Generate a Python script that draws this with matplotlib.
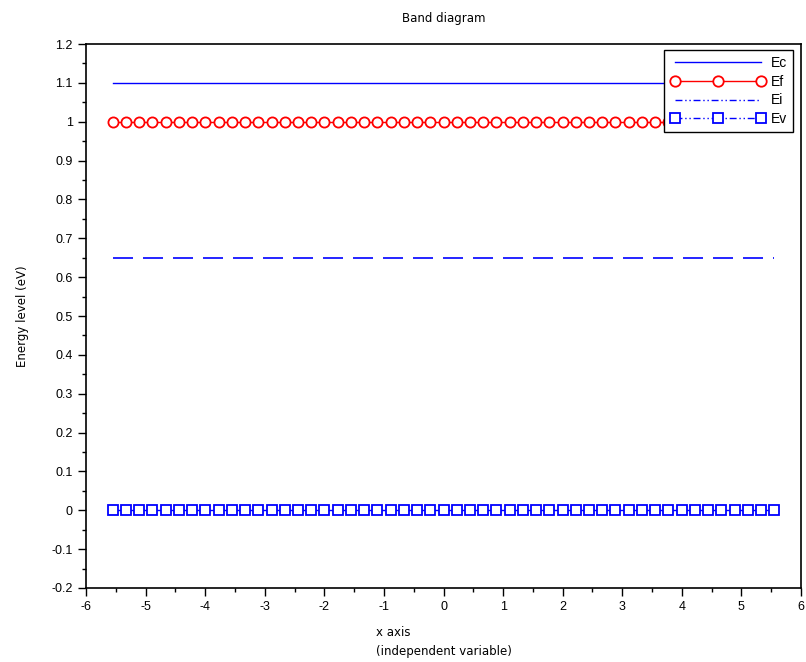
#!/usr/bin/env python
# Band diagram: flat energy levels across x
import numpy as np
import matplotlib
matplotlib.use('Agg')
import matplotlib.pyplot as plt
from matplotlib.lines import Line2D
from matplotlib.ticker import MultipleLocator

x = np.linspace(-5.55, 5.55, 51)
Ec = 1.1
Ef = 1.0
Ei = 0.65
Ev = 0.0
labels = ['Ec', 'Ef', 'Ei', 'Ev']

plt.rcParams['font.family'] = ['Liberation Sans', 'DejaVu Sans']
plt.rcParams['font.size'] = 9

fig = plt.figure(figsize=(8.06, 6.62), dpi=100)
ax = fig.add_axes([0.1067, 0.1118, 0.9938 - 0.1067, 0.9335 - 0.1118])

blue = '#0000ff'
red = '#ff0000'
ax.plot(x, np.full_like(x, Ec), color=blue, lw=1)
ax.plot(x, np.full_like(x, Ef), color=red, lw=1, marker='o', ms=7.3,
        mfc='white', mec=red, mew=1.3)
ax.plot(x, np.full_like(x, Ei), color=blue, lw=1.2, dashes=(12, 6))
ax.plot(x, np.full_like(x, Ev), color=blue, lw=1, marker='s', ms=7.3,
        mfc='white', mec=blue, mew=1.3)

ax.set_xlim(-6, 6)
ax.set_ylim(-0.2, 1.2)
ax.xaxis.set_major_locator(MultipleLocator(1))
ax.xaxis.set_minor_locator(MultipleLocator(0.5))
ax.yaxis.set_major_locator(MultipleLocator(0.1))
ax.yaxis.set_minor_locator(MultipleLocator(0.05))
ax.tick_params(which='major', length=6, width=1, direction='out')
ax.tick_params(which='minor', length=3, width=1, direction='out')
for s in ax.spines.values():
    s.set_linewidth(1.2)

def fmt(v, pos):
    s = ('%.1f' % v).rstrip('0').rstrip('.')
    return '0' if s in ('-0', '') else s
ax.xaxis.set_major_formatter(plt.FuncFormatter(fmt))
ax.yaxis.set_major_formatter(plt.FuncFormatter(fmt))

ax.set_title('Band diagram', fontsize=8.5, family='DejaVu Sans', pad=16)
ax.set_xlabel('x axis\n(independent variable)', fontsize=8.5,
              family='DejaVu Sans', multialignment='left', labelpad=9,
              linespacing=1.6)
ax.set_ylabel('Energy level (eV)', fontsize=8.5, family='DejaVu Sans',
              labelpad=16)

handles = [
    Line2D([], [], color=blue, lw=1),
    Line2D([], [], color=red, lw=1, marker='o', ms=7.5, mfc='white',
           mec=red, mew=1.3),
    Line2D([], [], color=blue, lw=1, dashes=(5, 2, 1, 2, 1, 2)),
    Line2D([], [], color=blue, lw=1, dashes=(5, 2, 1, 2, 1, 2), marker='s',
           ms=7.5, mfc='white', mec=blue, mew=1.3),
]
leg = ax.legend(handles, labels, loc='upper right',
                bbox_to_anchor=(0.989, 0.989), borderaxespad=0,
                handlelength=6.8, numpoints=3, fancybox=False,
                framealpha=1, edgecolor='black', fontsize=10,
                handletextpad=0.4, labelspacing=0.33, borderpad=0.45)
leg.get_frame().set_linewidth(1.0)

fig.savefig('out.png', dpi=100)
